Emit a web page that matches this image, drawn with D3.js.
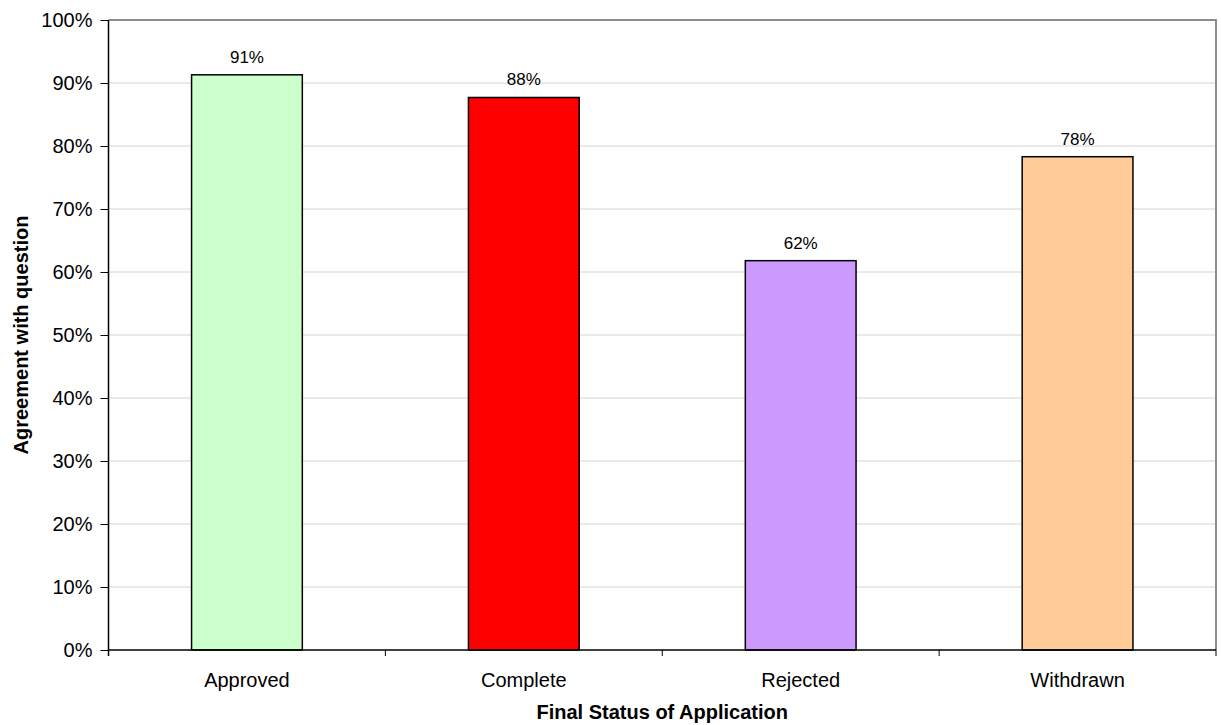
<!DOCTYPE html>
<html>
<head>
<meta charset="utf-8">
<script src="https://cdn.jsdelivr.net/npm/d3@7"></script>
<style>
  body { margin: 0; background: #fff; }
  svg { display: block; font-family: "Liberation Sans", Arial, sans-serif; }
</style>
</head>
<body>
<svg id="chart" width="1221" height="725"></svg>
<script>
// Share of applicants agreeing with the question, by final application status
const categories = ["Approved", "Complete", "Rejected", "Withdrawn"];
const values = [0.913, 0.877, 0.618, 0.783];
const barColors = ["#ccffcc", "#ff0000", "#cc99ff", "#ffcc99"];
const yTicks = [0, 0.1, 0.2, 0.3, 0.4, 0.5, 0.6, 0.7, 0.8, 0.9, 1.0];

const margin = { top: 20, right: 5, bottom: 75, left: 108.5 };
const width = 1221, height = 725;
const svg = d3.select("#chart");

const x = d3.scaleBand()
  .domain(categories)
  .range([margin.left, width - margin.right])
  .paddingInner(0.6)
  .paddingOuter(0.3);

const y = d3.scaleLinear()
  .domain([0, 1])
  .range([height - margin.bottom, margin.top]);

const x0 = margin.left, x1 = width - margin.right;
const y0 = y(0), y1 = y(1);

// gridlines
svg.append("g")
  .selectAll("line")
  .data(yTicks.filter(d => d > 0 && d < 1))
  .join("line")
  .attr("x1", x0).attr("x2", x1)
  .attr("y1", d => y(d)).attr("y2", d => y(d))
  .attr("stroke", "#d4d4d4")
  .attr("stroke-width", 1);

// plot area border (top and right)
svg.append("path")
  .attr("d", `M${x0},${y1}H${x1}V${y0}`)
  .attr("fill", "none")
  .attr("stroke", "#8c8c8c")
  .attr("stroke-width", 2);

// bars
svg.append("g")
  .selectAll("rect")
  .data(values)
  .join("rect")
  .attr("x", (d, i) => x(categories[i]))
  .attr("y", d => y(d))
  .attr("width", x.bandwidth())
  .attr("height", d => y0 - y(d))
  .attr("fill", (d, i) => barColors[i])
  .attr("stroke", "#000")
  .attr("stroke-width", 1.5);

// value labels
svg.append("g")
  .selectAll("text")
  .data(values)
  .join("text")
  .attr("x", (d, i) => x(categories[i]) + x.bandwidth() / 2)
  .attr("y", d => y(d) - 12)
  .attr("text-anchor", "middle")
  .attr("font-size", 17)
  .attr("fill", "#000")
  .text(d => d3.format(".0%")(d));

// y axis
const yAxis = d3.axisLeft(y)
  .tickValues(yTicks)
  .tickFormat(d3.format(".0%"))
  .tickSize(8)
  .tickPadding(8);
const gy = svg.append("g")
  .attr("transform", `translate(${x0},0)`)
  .call(yAxis);
gy.select(".domain").attr("stroke", "#000").attr("stroke-width", 1.5)
  .attr("d", `M0,${y1}V${y0 + 6}`);
gy.selectAll(".tick line").attr("stroke", "#000");
gy.selectAll(".tick text").attr("font-size", 20).attr("fill", "#000")
  .attr("font-family", "Liberation Sans, Arial, sans-serif");

// x axis with ticks on category boundaries
const gx = svg.append("g");
gx.append("line")
  .attr("x1", x0).attr("x2", x1)
  .attr("y1", y0).attr("y2", y0)
  .attr("stroke", "#000").attr("stroke-width", 1.5);
const step = (x1 - x0) / categories.length;
gx.selectAll(".btick")
  .data(d3.range(categories.length + 1))
  .join("line")
  .attr("class", "btick")
  .attr("x1", i => x0 + i * step).attr("x2", i => x0 + i * step)
  .attr("y1", y0).attr("y2", y0 + 6)
  .attr("stroke", "#000");
gx.selectAll(".clabel")
  .data(categories)
  .join("text")
  .attr("class", "clabel")
  .attr("x", d => x(d) + x.bandwidth() / 2)
  .attr("y", 687)
  .attr("text-anchor", "middle")
  .attr("font-size", 20)
  .attr("fill", "#000")
  .text(d => d);

// axis titles
svg.append("text")
  .attr("x", (x0 + x1) / 2)
  .attr("y", 719)
  .attr("text-anchor", "middle")
  .attr("font-size", 20)
  .attr("font-weight", "bold")
  .text("Final Status of Application");

svg.append("text")
  .attr("transform", `translate(28,${(y0 + y1) / 2}) rotate(-90)`)
  .attr("text-anchor", "middle")
  .attr("font-size", 20)
  .attr("font-weight", "bold")
  .text("Agreement with question");
</script>
</body>
</html>
